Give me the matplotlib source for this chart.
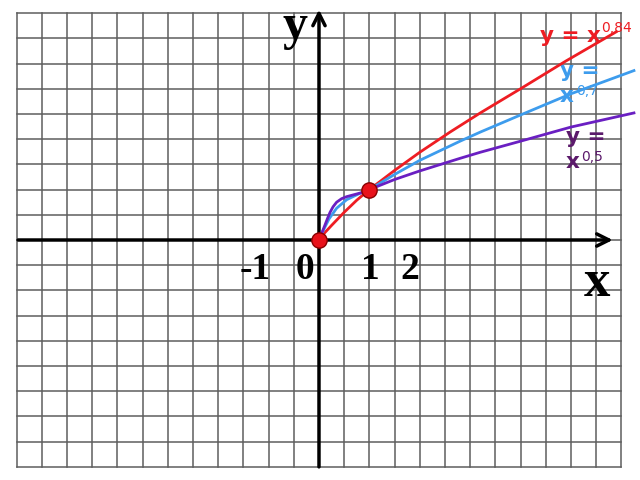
import numpy as np
import matplotlib
matplotlib.use("Agg")
import matplotlib.pyplot as plt

# points (x, y in chart units)
red_x = [0, 0.12, 0.25, 0.5, 0.75, 1, 1.5, 2, 2.6, 3.2, 4, 4.9, 5.9]
red_y = [0, 0.15, 0.29, 0.55, 0.79, 1, 1.38, 1.74, 2.14, 2.52, 3.0, 3.55, 4.13]

blue_x = [0, 0.05, 0.1, 0.2, 0.35, 0.55, 0.8, 1, 1.5, 2, 2.8, 3.2, 4, 5, 6.25]
blue_y = [0, 0.12, 0.22, 0.42, 0.63, 0.8, 0.92, 1, 1.3, 1.58, 1.96, 2.14, 2.48, 2.9, 3.36]

purple_x = [0, 0.03, 0.08, 0.12, 0.17, 0.22, 0.28, 0.35, 0.45, 0.55, 0.7, 0.85, 1,
            1.5, 2, 2.8, 3.2, 4, 5, 6.25]
purple_y = [0, 0.08, 0.2, 0.3, 0.43, 0.55, 0.66, 0.75, 0.82, 0.86, 0.9, 0.94, 1,
            1.2, 1.37, 1.62, 1.74, 1.96, 2.24, 2.52]

dot_x = [0, 1]
dot_y = [0, 1]

tick_labels = ["-1", "0", "1", "2"]
tick_pos = [-1.27, -0.28, 1.01, 1.8]

RED = "#ee1d23"
BLUE = "#3d9ced"
PURPLE = "#6a1fc2"
PURPLE_TXT = "#5b1a6b"

fig = plt.figure(figsize=(6.4, 4.8), dpi=100)
ax = fig.add_axes([0, 0, 1, 1])
ax.set_xlim(-6.33, 6.37)
ax.set_ylim(-4.76, 4.76)
ax.axis("off")

# squared paper
grid_col = "#5e5e5e"
for gx in np.arange(-6, 6.01, 0.5):
    ax.plot([gx, gx], [-4.5, 4.5], color=grid_col, lw=1.1, zorder=1)
for gy in np.arange(-4.5, 4.51, 0.5):
    ax.plot([-6, 6], [gy, gy], color=grid_col, lw=1.1, zorder=1)

# axes with arrows
ax.annotate("", xy=(5.83, 0), xytext=(-5.97, 0),
            arrowprops=dict(arrowstyle="->", lw=2.5, color="black",
                            mutation_scale=22, shrinkA=0, shrinkB=0), zorder=3)
ax.annotate("", xy=(0, 4.57), xytext=(0, -4.5),
            arrowprops=dict(arrowstyle="->", lw=2.5, color="black",
                            mutation_scale=22, shrinkA=0, shrinkB=0), zorder=3)

# curves
ax.plot(red_x, red_y, color=RED, lw=2, zorder=4, solid_joinstyle="round")
ax.plot(blue_x, blue_y, color=BLUE, lw=2, zorder=4, solid_joinstyle="round")
ax.plot(purple_x, purple_y, color=PURPLE, lw=2, zorder=4, solid_joinstyle="round")
ax.plot(dot_x, dot_y, "o", ms=11, color="#e8121b", mec="#8a0000", mew=1, zorder=6, linestyle="none")

# axis names and numbers
serif = "Liberation Serif"
ax.text(-0.48, 4.23, "y", fontsize=36, fontweight="bold", family=serif,
        ha="center", va="center")
ax.text(5.52, -0.85, "x", fontsize=38, fontweight="bold", family=serif,
        ha="center", va="center")
for lab, px in zip(tick_labels, tick_pos):
    ax.text(px, -0.58, lab, fontsize=27, fontweight="bold", family=serif,
            ha="center", va="center")

# function labels
ax.text(4.38, 4.05, "y = x", fontsize=15.5, fontweight="bold", color=RED,
        ha="left", va="center")
ax.text(5.6, 4.2, "0,84", fontsize=10, color=RED, ha="left", va="center")

ax.text(4.78, 3.35, "y =", fontsize=15.5, fontweight="bold", color=BLUE,
        ha="left", va="center")
ax.text(4.78, 2.85, "x", fontsize=15.5, fontweight="bold", color=BLUE,
        ha="left", va="center")
ax.text(5.1, 2.95, "0,7", fontsize=10, color=BLUE, ha="left", va="center")

ax.text(4.9, 2.04, "y =", fontsize=15.5, fontweight="bold", color=PURPLE_TXT,
        ha="left", va="center")
ax.text(4.9, 1.55, "x", fontsize=15.5, fontweight="bold", color=PURPLE_TXT,
        ha="left", va="center")
ax.text(5.2, 1.65, "0,5", fontsize=10, color=PURPLE_TXT, ha="left", va="center")

fig.savefig("out.png", dpi=100)
